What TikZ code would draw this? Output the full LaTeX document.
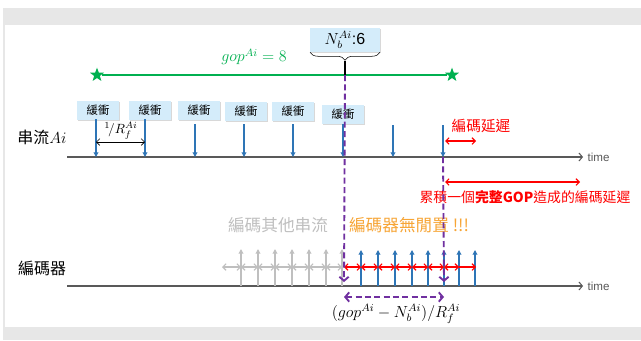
\documentclass[tikz,border=0pt]{standalone}
\usepackage{amsmath}
\usepackage{fontspec}
\newfontfamily\cjk{Noto Sans CJK TC}
\newfontfamily\arial{Liberation Sans}
\usetikzlibrary{arrows.meta,shapes.geometric,shadows,decorations.pathreplacing}

\definecolor{gopgreen}{HTML}{00B050}
\definecolor{bufblue}{HTML}{D4ECFA}
\definecolor{frameblue}{HTML}{2E75B6}
\definecolor{waitpurple}{HTML}{7030A0}
\definecolor{idleorange}{HTML}{F7A535}
\definecolor{othergray}{HTML}{BFBFBF}
\definecolor{axisgray}{HTML}{595959}
\definecolor{slidegray}{HTML}{E7E7E7}

\begin{document}
\begin{tikzpicture}[x=0.75pt, y=-0.75pt,
  buf/.style = {fill=bufblue, minimum width=31.5pt, minimum height=14.25pt, inner sep=0pt,
    font=\cjk\fontsize{8.5}{8.5}\selectfont,
    drop shadow={shadow xshift=0.8pt, shadow yshift=-0.8pt, fill=black!30}},
  frame/.style = {frameblue, line width=0.9pt, -{Triangle[length=3.5pt, width=3.5pt]}},
  other/.style = {othergray, line width=0.9pt, -{Triangle[length=3.5pt, width=3.5pt]}},
  axis/.style = {axisgray, line width=0.8pt, -{Straight Barb[length=2.5pt, width=6pt]}},
  gap/.style = {line width=0.8pt, {Straight Barb[length=2.5pt, width=5pt]}-{Straight Barb[length=2.5pt, width=5pt]}},
  wait/.style = {waitpurple, line width=1.4pt, dash pattern=on 4.5pt off 2.5pt},
  star5/.style = {star, star points=5, star point ratio=2.4, fill=gopgreen, inner sep=0pt, minimum size=11pt},
  timelbl/.style = {right, inner sep=3pt, font=\arial\fontsize{8.7}{8.7}\selectfont},
  cjk12/.style = {font=\cjk\fontsize{12}{12}\selectfont}]

  % slide background
  \useasboundingbox (0,0) rectangle (641,340);
  \fill[slidegray] (3,8) rectangle (641,340);
  \fill[white] (5,25) rectangle (641,327);

  % one GOP of stream Ai
  \node[star5] (gl) at (97,75) {};
  \node[star5] (gr) at (452,75) {};
  \draw[gopgreen, line width=1.5pt] (gl) -- (gr);
  \node[text=gopgreen, font=\fontsize{12}{12}\selectfont] (gop) at (254,57) {$gop^{Ai}=8$};

  % buffered frames
  \node[buf, minimum width=52pt, minimum height=18pt, font=\fontsize{12}{12}\selectfont] (nb) at (345,40) {$N_b^{Ai}${\arial:6}};
  \draw[decorate, decoration={brace, mirror, amplitude=6pt}] (nb.south west) -- (nb.south east);
  \coordinate (nbtip) at (345,61);
  \coordinate (g) at (345,75);
  \draw[line width=0.9pt] (nbtip) -- (g);

  \foreach \n/\x/\y in {1/98/110, 2/150/110, 3/199/110, 4/246/111, 5/293/111, 6/343/114}
    \node[buf] (b\n) at (\x,\y) {緩衝};

  % stream Ai
  \node[cjk12] (strm) at (42,137) {串流$Ai$};
  \coordinate (t0) at (67,157);
  \coordinate (t1) at (583,157);
  \draw[axis] (t0) -- (t1) node[timelbl] (time1) {time};
  \foreach \n/\x/\t in {1/96/119, 2/145/119, 3/195/124, 4/244/124, 5/293/124, 6/343/124, 7/393/125, 8/443/125} {
    \coordinate (s\n) at (\x,\t);
    \coordinate (f\n) at (\x,157);
    \draw[frame] (s\n) -- (f\n);
  }
  \draw[gap, line width=0.5pt] (96,142) -- (145,142);
  \node[font=\fontsize{10}{10}\selectfont] (rate) at (121,131) {${}^1\!/R_f^{Ai}$};

  % encoding delay
  \node[text=red, font=\cjk\fontsize{11}{11}\selectfont] (dly) at (481,126) {編碼延遲};
  \draw[gap, red] (445,141) -- (476,141);
  \draw[gap, red] (445,182) -- (580,182);
  \node[text=red, font=\cjk\fontsize{10.4}{10.4}\selectfont] (gopdly) at (525,197) {累積一個{\bfseries 完整GOP}造成的編碼延遲};

  % encoder
  \node[cjk12] (enc) at (42,268) {編碼器};
  \coordinate (e0) at (67,286);
  \coordinate (e1) at (583,286);
  \draw[axis] (e0) -- (e1) node[timelbl] (time2) {time};
  \node[text=othergray, font=\cjk\fontsize{12.5}{12.5}\selectfont] (othlbl) at (278,225) {編碼其他串流};
  \node[text=idleorange, font=\cjk\fontsize{12.5}{12.5}\selectfont] (idle) at (409,225) {編碼器無閒置 !!!};

  \foreach \x in {241,258,275,292,309,326,342}
    \draw[other] (\x,286) -- (\x,249);
  \foreach \a/\b in {222/241, 241/258, 258/275, 275/292, 292/309, 309/326, 326/342}
    \draw[gap, othergray] (\a,267) -- (\b,267);

  \foreach \x in {361,378,395,412,428,444,459,475}
    \draw[frame] (\x,286) -- (\x,250);
  \foreach \a/\b in {344/361, 361/378, 378/395, 395/412, 412/428, 428/444, 444/459}
    \draw[gap, red] (\a,267) -- (\b,267);
  \draw[red, line width=0.8pt, -{Straight Barb[length=2.5pt, width=5pt]}] (459,267) -- (476,267);

  % waiting time
  \coordinate (w0) at (344,282);
  \coordinate (w1) at (444,282);
  \draw[wait, -{Straight Barb[length=3pt, width=7pt]}] (g) -- (w0);
  \draw[wait, -{Straight Barb[length=3pt, width=7pt]}] (f8) -- (w1);
  \coordinate (d0) at (344,297);
  \coordinate (d1) at (444,297);
  \draw[wait, {Straight Barb[length=3pt, width=7pt]}-{Straight Barb[length=3pt, width=7pt]}] (d0) -- (d1);
  \node[font=\fontsize{12}{12}\selectfont] (wlbl) at (396,314) {$(gop^{Ai}-N_b^{Ai})/R_f^{Ai}$};
\end{tikzpicture}
\end{document}
